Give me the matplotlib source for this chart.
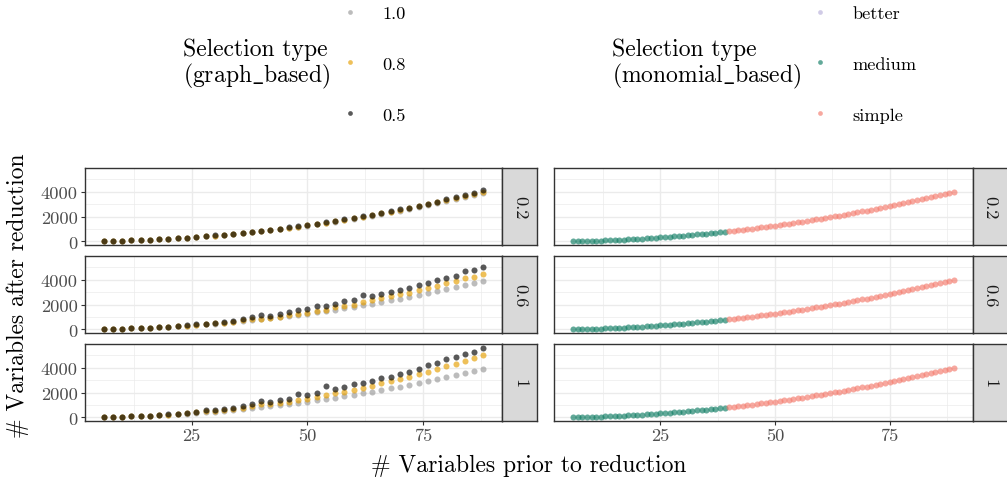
import matplotlib
matplotlib.use("Agg")
import matplotlib.pyplot as plt
from matplotlib.lines import Line2D

plt.rcParams['font.family'] = ['cmr10', 'DejaVu Serif']
plt.rcParams['axes.unicode_minus'] = False
plt.rcParams['mathtext.fontset'] = 'cm'

# ---- data ----
x_graph = list(range(6, 89, 2))

# row facets of the left plot
facets = ["0.2", "0.6", "1"]

# selection "1.0" (same in every row)
y_10 = [20, 35, 55, 80, 105, 135, 170, 210, 255, 300, 350, 405, 465, 530,
        595, 665, 740, 820, 905, 990, 1080, 1175, 1275, 1380, 1485, 1595,
        1710, 1830, 1955, 2080, 2210, 2345, 2485, 2630, 2775, 2925, 3080,
        3240, 3405, 3570, 3740, 3915]

# selection "0.8", one list per row
y_08 = {
    "0.2": [21, 36, 56, 79, 107, 139, 175, 215, 259, 307, 359, 415, 475, 539,
            607, 680, 757, 837, 921, 1010, 1103, 1200, 1300, 1405, 1515, 1625,
            1740, 1860, 1985, 2115, 2250, 2385, 2530, 2675, 2825, 2975, 3135,
            3300, 3470, 3640, 3810, 3990],
    "0.6": [20, 35, 55, 80, 105, 136, 172, 212, 258, 310, 365, 425, 490, 560,
            630, 740, 820, 880, 930, 1040, 1180, 1272, 1352, 1458, 1564, 1776,
            1882, 1988, 2173, 2385, 2518, 2677, 2836, 2968, 3154, 3313, 3472,
            3710, 3869, 4134, 4240, 4452],
    "1": [20, 35, 55, 80, 110, 140, 180, 225, 275, 330, 440, 520, 560, 640,
          720, 800, 950, 1080, 1070, 1200, 1280, 1440, 1520, 1650, 1810, 1950,
          2080, 2240, 2400, 2560, 2770, 2930, 3090, 3280, 3470, 3680, 3890,
          4130, 4270, 4560, 4800, 5010],
}

# selection "0.5", one list per row
y_05 = {
    "0.2": [22, 37, 57, 81, 110, 142, 180, 220, 265, 315, 368, 425, 485, 550,
            620, 695, 775, 855, 940, 1030, 1130, 1225, 1330, 1440, 1545, 1640,
            1780, 1895, 2025, 2160, 2295, 2430, 2585, 2720, 2880, 3015, 3175,
            3385, 3570, 3705, 3865, 4105],
    "0.6": [20, 35, 55, 80, 105, 136, 172, 212, 265, 330, 410, 470, 550, 610,
            665, 875, 980, 1140, 1090, 1270, 1430, 1564, 1670, 1855, 1908, 2040,
            2279, 2385, 2730, 2703, 2862, 3048, 3207, 3366, 3578, 3737, 3975,
            4108, 4320, 4664, 4770, 5035],
    "1": [20, 35, 55, 80, 120, 155, 205, 250, 310, 390, 480, 610, 630, 720,
          800, 900, 1050, 1340, 1260, 1380, 1500, 1920, 1770, 1940, 2560, 2320,
          2450, 2660, 2770, 2930, 3150, 3290, 3490, 3660, 3900, 4180, 4400,
          4690, 4830, 5090, 5280, 5600],
}

# right plot: monomial based selection (same curve in every row)
x_medium = list(range(6, 40))
y_medium = [21, 28, 36, 45, 55, 66, 78, 91, 105, 120, 136, 153, 171, 190,
            210, 231, 253, 276, 300, 325, 351, 378, 406, 435, 465, 496, 528,
            561, 595, 630, 666, 703, 741, 780]
x_simple = list(range(40, 90))
y_simple = [820, 861, 903, 946, 990, 1035, 1081, 1128, 1176, 1225, 1275, 1326,
            1378, 1431, 1485, 1540, 1596, 1653, 1711, 1770, 1830, 1891, 1953,
            2016, 2080, 2145, 2211, 2278, 2346, 2415, 2485, 2556, 2628, 2701,
            2775, 2850, 2926, 3003, 3081, 3160, 3240, 3321, 3403, 3486, 3570,
            3655, 3741, 3828, 3916, 4005]

graph_labels = ["1.0", "0.8", "0.5"]
graph_colors = ["#999999", "#E69F00", "#000000"]
mono_labels = ["better", "medium", "simple"]
mono_colors = ["#B8B0DA", "#0E7C62", "#F47A6C"]

ALPHA = 0.65
S = 19

W, H = 1007, 481
fig = plt.figure(figsize=(W / 100, H / 100), dpi=100)


def box(x0, y0, x1, y1):
    return [x0 / W, 1 - y1 / H, (x1 - x0) / W, (y1 - y0) / H]


def expand(lo, hi, f=0.05):
    d = (hi - lo) * f
    return lo - d, hi + d


all_y = y_10 + sum(y_08.values(), []) + sum(y_05.values(), [])
ylim = expand(min(all_y), max(all_y))
xlim_l = expand(min(x_graph), max(x_graph))
xlim_r = expand(min(x_medium), max(x_simple))

rows = [(169.3, 245.7), (257.3, 333.7), (345.3, 421.7)]
left_x = (84.7, 502.3)
right_x = (554.3, 972.7)
strip_w = 35


def style(ax, xlim, bottom, left):
    ax.set_xlim(*xlim)
    ax.set_ylim(*ylim)
    ax.set_xticks([25, 50, 75])
    ax.set_xticks([12.5, 37.5, 62.5, 87.5], minor=True)
    ax.set_yticks([0, 2000, 4000])
    ax.set_yticks([1000, 3000, 5000], minor=True)
    ax.grid(True, which='major', color='#EBEBEB', lw=1.0)
    ax.grid(True, which='minor', color='#EBEBEB', lw=0.5)
    ax.set_axisbelow(True)
    for s in ax.spines.values():
        s.set_color('#333333')
        s.set_linewidth(1.0)
    ax.tick_params(which='minor', length=0)
    ax.tick_params(which='major', length=3, width=0.8, color='#333333',
                   labelsize=13.2, labelcolor='#4D4D4D', pad=2)
    if not bottom:
        ax.tick_params(axis='x', length=0, labelbottom=False)
    if not left:
        ax.tick_params(axis='y', length=0, labelleft=False)


def strip(x0, y0, y1, label):
    sa = fig.add_axes(box(x0, y0, x0 + strip_w, y1))
    sa.set_facecolor('#D9D9D9')
    sa.set_xticks([])
    sa.set_yticks([])
    for s in sa.spines.values():
        s.set_color('#333333')
        s.set_linewidth(1.0)
    sa.text(0.5, 0.5, label, rotation=-90, ha='center', va='center',
            fontsize=13.2, color='#1A1A1A', transform=sa.transAxes)


for i, (fac, (y0, y1)) in enumerate(zip(facets, rows)):
    bottom = i == len(facets) - 1
    ax = fig.add_axes(box(left_x[0], y0, left_x[1], y1))
    style(ax, xlim_l, bottom, True)
    ax.scatter(x_graph, y_10, s=S, color=graph_colors[0], alpha=ALPHA, lw=0)
    ax.scatter(x_graph, y_08[fac], s=S, color=graph_colors[1], alpha=ALPHA, lw=0)
    ax.scatter(x_graph, y_05[fac], s=S, color=graph_colors[2], alpha=ALPHA, lw=0)
    strip(left_x[1], y0, y1, fac)

    ax2 = fig.add_axes(box(right_x[0], y0, right_x[1], y1))
    style(ax2, xlim_r, bottom, False)
    ax2.scatter(x_medium, y_medium, s=S, color=mono_colors[1], alpha=ALPHA, lw=0)
    ax2.scatter(x_simple, y_simple, s=S, color=mono_colors[2], alpha=ALPHA, lw=0)
    strip(right_x[1], y0, y1, fac)

# axis titles
fig.text(529 / W, 1 - 466 / H, "# Variables prior to reduction",
         ha='center', va='center', fontsize=17)
fig.text(18 / W, 1 - 295.5 / H, "# Variables after reduction",
         ha='center', va='center', rotation=90, fontsize=17)

# legends: title on the left, keys stacked on the right
fs_leg = 13.2


def legend(title, tx, kx, labels, colors):
    fig.text(tx / W, 1 - 65 / H, title, ha='left', va='center',
             fontsize=17, linespacing=1.05)
    handles = [Line2D([], [], ls='none', marker='o', ms=3.4, color=c,
                      alpha=ALPHA, mec='none') for c in colors]
    fig.legend(handles, labels, loc='center left',
               bbox_to_anchor=(kx / W, 1 - 65 / H), frameon=False,
               fontsize=fs_leg, borderpad=0, borderaxespad=0,
               handlelength=1.0, handletextpad=1.25, labelspacing=1.9)


legend("Selection type\n" + r"(graph$\_$based)", 183, 341,
       graph_labels, graph_colors)
legend("Selection type\n" + r"(monomial$\_$based)", 612.5, 811,
       mono_labels, mono_colors)

fig.savefig("out.png", dpi=100)
